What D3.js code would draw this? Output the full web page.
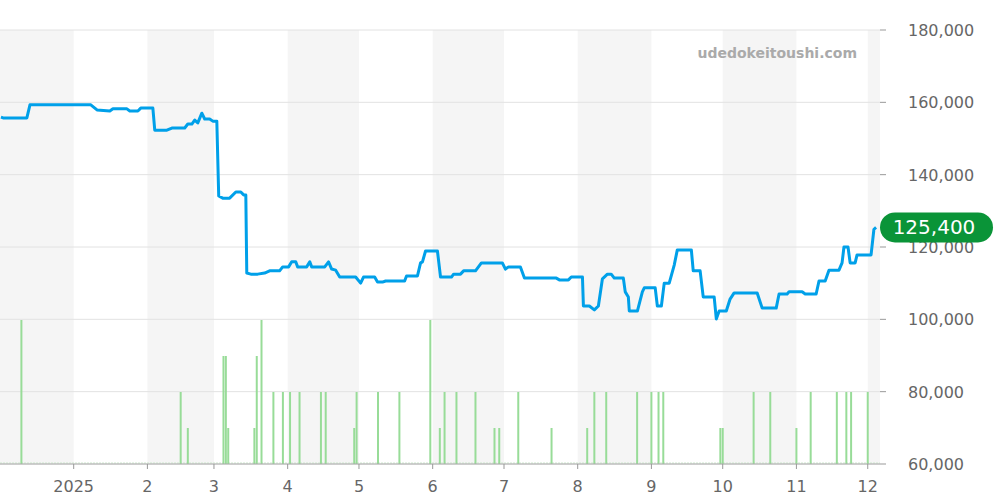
<!DOCTYPE html>
<html><head><meta charset="utf-8">
<script src="https://cdn.jsdelivr.net/npm/d3@7"></script>
<style>body{margin:0;background:#fff}svg{font-family:"DejaVu Sans",sans-serif}</style>
</head><body><svg id="chart" width="1000" height="500"></svg>
<script>
// days since 2024-12-01
var priceDays = [0.4,1.3,11.3,12.6,38.2,40.8,46.2,47.5,53.4,54.6,58.0,59.2,64.3,65.1,70.2,72.3,77.7,79.0,80.7,81.9,83.2,84.9,86.1,88.2,89.5,91.2,92.0,93.7,96.6,99.2,101.3,102.5,103.4,103.8,105.5,108.4,111.3,113.4,117.6,118.9,121.4,122.7,124.4,125.2,129.0,130.3,131.1,136.6,138.2,139.5,141.2,142.9,149.6,151.7,152.9,157.6,158.8,160.9,162.2,170.2,171.0,175.6,176.9,177.7,179.0,184.0,185.3,189.9,190.8,193.7,195.0,200.0,202.5,211.3,212.6,213.9,218.9,220.6,234.0,235.3,239.1,240.3,245.0,245.4,247.9,250.0,251.7,253.4,255.5,257.1,258.4,262.2,263.0,264.3,264.7,268.1,270.2,271.0,275.6,276.5,278.2,279.4,281.5,283.6,284.9,290.8,291.6,294.5,295.8,300.4,301.3,302.5,305.5,307.1,308.8,318.5,320.6,326.5,327.7,331.1,331.9,337.4,338.7,343.3,344.5,347.1,348.7,352.9,354.2,355.0,356.7,357.6,359.7,360.5,366.4,367.6,368.5];
var prices = [155900,155700,155700,159300,159300,157900,157600,158200,158200,157600,157600,158400,158400,152300,152300,152900,152900,154000,154000,155100,154300,157000,155400,155400,154800,154800,134100,133500,133500,135200,135200,134400,134400,112800,112500,112500,112800,113400,113400,114500,114500,115900,115900,114500,114500,115900,114500,114500,115900,113900,113600,111700,111700,110000,111700,111700,110300,110300,110600,110600,112000,112000,115600,115900,118900,118900,111700,111700,112500,112500,113400,113400,115600,115600,113900,114500,114500,111400,111400,110900,110900,111700,111700,103700,103700,102600,103700,111200,112500,112500,111400,111400,107600,106200,102300,102300,107600,108700,108700,103700,103700,110000,110000,115000,119200,119200,113400,113400,106200,106200,100100,102300,102300,105600,107300,107300,103100,103100,107000,107000,107600,107600,107000,107000,110600,110600,113600,113600,115600,120000,120000,115600,115600,117800,117800,124900,125400];
var volDays = [9,76,79,94,95,96,107,108,110,115,119,122,126,135,137,149,150,159,168,181,185,187,192,200,208,210,218,232,247,250,255,268,274,277,279,303,304,317,324,335,341,352,356,358,365];
var volumes = [4,2,1,3,3,1,1,3,4,2,2,2,2,2,2,1,2,2,2,4,1,2,2,2,1,1,2,1,1,2,2,2,2,2,2,1,1,2,2,1,2,2,2,2,2];
var yTicks = [60000,80000,100000,120000,140000,160000,180000];
var lastPrice = 125400;

var svg = d3.select('#chart');
var W = 880, plotTop = 30, plotBottom = 464;
var start = new Date(2024, 11, 1);
var x = d3.scaleTime().domain([start, new Date(2025, 11, 7)]).range([0, 882]);
var y = d3.scaleLinear().domain([60000, 180000]).range([plotBottom, plotTop]);
var vy = d3.scaleLinear().domain([0, 1]).range([plotBottom, plotBottom - 36]);
var toDate = d => d3.timeMinute.offset(start, Math.round(d * 1440));

// month bands
var months = d3.timeMonth.range(new Date(2024, 11, 1), new Date(2026, 0, 1));
months.forEach((m, i) => {
    if (i % 2) return;
    var x0 = x(m), x1 = Math.min(W, x(d3.timeMonth.offset(m, 1)));
    svg.append('rect').attr('x', x0).attr('y', plotTop).attr('width', x1 - x0)
        .attr('height', plotBottom - plotTop).attr('fill', '#f5f5f5');
});

yTicks.forEach(t => {
    svg.append('line').attr('x1', 0).attr('x2', W).attr('y1', y(t)).attr('y2', y(t))
        .attr('stroke', '#e2e2e2');
    svg.append('line').attr('x1', W).attr('x2', W + 6).attr('y1', y(t)).attr('y2', y(t))
        .attr('stroke', '#999');
    svg.append('text').attr('x', 908).attr('y', y(t) + 6).attr('fill', '#666')
        .attr('font-size', 16).text(d3.format(',')(t));
});

// volume
svg.append('line').attr('x1', 0).attr('x2', W).attr('y1', plotBottom - 1).attr('y2', plotBottom - 1)
    .attr('stroke', '#cfe9cf').attr('stroke-dasharray', '2,1');
volDays.forEach((d, i) => {
    var xx = x(toDate(d));
    svg.append('line').attr('x1', xx).attr('x2', xx).attr('y1', plotBottom).attr('y2', vy(volumes[i]))
        .attr('stroke', '#98dc98').attr('stroke-width', 2);
});

// x axis
svg.append('line').attr('x1', 0).attr('x2', W).attr('y1', plotBottom).attr('y2', plotBottom).attr('stroke', '#aaa');
d3.timeMonth.range(new Date(2025, 0, 1), new Date(2025, 11, 2)).forEach(m => {
    var xx = x(m);
    svg.append('line').attr('x1', xx).attr('x2', xx).attr('y1', plotBottom).attr('y2', plotBottom + 5).attr('stroke', '#999');
    svg.append('text').attr('x', xx).attr('y', 492).attr('text-anchor', 'middle').attr('fill', '#666')
        .attr('font-size', 16).text(m.getMonth() === 0 ? m.getFullYear() : m.getMonth() + 1);
});

// price line
var pts = priceDays.map((d, i) => [toDate(d), prices[i]]);
svg.append('path').datum(pts)
    .attr('d', d3.line().x(p => x(p[0])).y(p => y(p[1])))
    .attr('fill', 'none').attr('stroke', '#00a0e9').attr('stroke-width', 3).attr('stroke-linejoin', 'round');

svg.append('text').attr('x', 857).attr('y', 58).attr('text-anchor', 'end').attr('fill', '#aaa')
    .attr('font-size', 14).attr('font-weight', 'bold').text('udedokeitoushi.com');

var by = y(lastPrice);
svg.append('rect').attr('x', 880).attr('y', by - 15).attr('width', 113).attr('height', 30)
    .attr('rx', 15).attr('fill', '#0a9438');
svg.append('text').attr('x', 934).attr('y', by + 7).attr('text-anchor', 'middle').attr('fill', '#fff')
    .attr('font-size', 20).text(d3.format(',')(lastPrice));
</script></body></html>
